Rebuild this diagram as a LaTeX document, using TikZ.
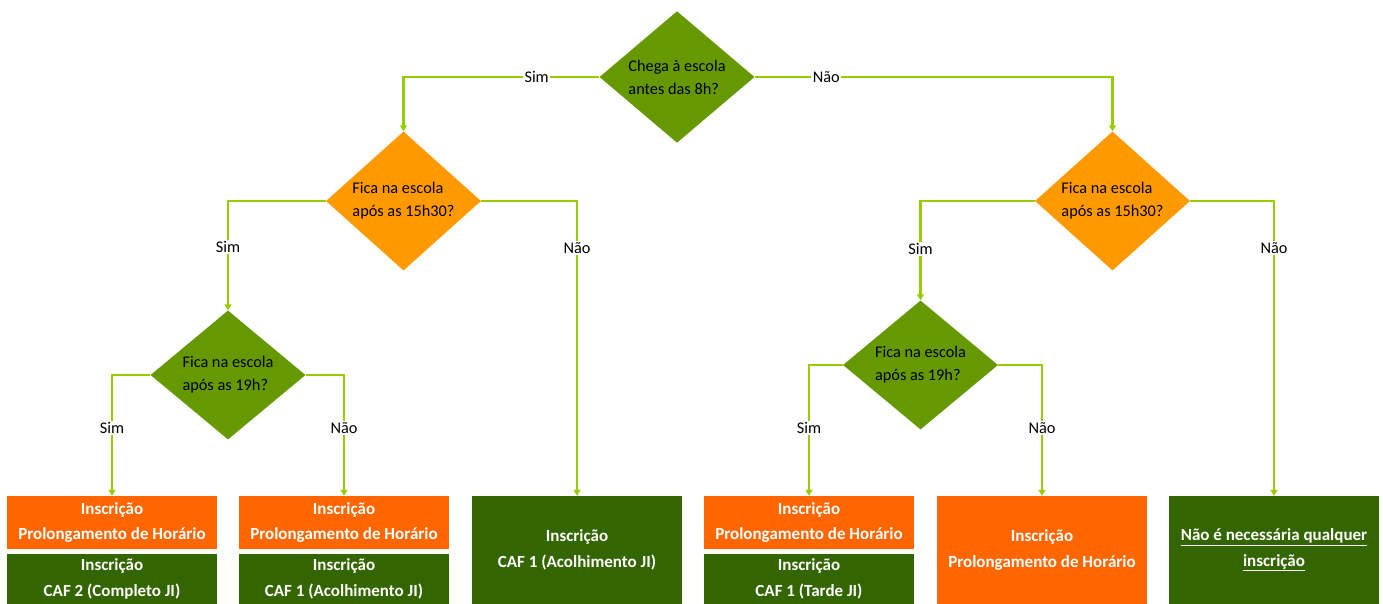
\documentclass[tikz,border=0pt]{standalone}
\usepackage{fontspec}
\setmainfont{Carlito}
\usetikzlibrary{shapes.geometric,arrows.meta}
\definecolor{dorange}{HTML}{FF9900}
\definecolor{dgreen}{HTML}{669900}
\definecolor{borange}{HTML}{FF6600}
\definecolor{bgreen}{HTML}{336600}
\definecolor{lineg}{HTML}{99CC00}
\tikzset{
  dec/.style={diamond, minimum width=155pt, minimum height=129pt, inner sep=0pt,
    font=\fontsize{16.3}{23}\selectfont, align=left, text=black},
  decor/.style={dec, fill=dorange},
  decgr/.style={dec, fill=dgreen},
  box/.style={rectangle, minimum width=210pt, inner sep=0pt, text=white,
    font=\bfseries\fontsize{17}{25.5}\selectfont, align=center},
  boxor/.style={box, fill=borange},
  boxgr/.style={box, fill=bgreen},
  conn/.style={draw=lineg, line width=2.4pt, -{Triangle[length=6pt,width=7pt]}},
  lab/.style={fill=white, inner sep=1.5pt, text=black, font=\fontsize{16.3}{18}\selectfont}
}
\begin{document}
\begin{tikzpicture}[x=1pt,y=-1pt]
\useasboundingbox (0,0) rectangle (1383,604);
% decisions
\node[decgr] (q1) at (677,77) {Chega à escola\\antes das 8h?};
\node[decor] (q2) at (403.5,201) {Fica na escola\\após as 15h30?};
\node[decor] (q3) at (1112.5,201) {Fica na escola\\após as 15h30?};
\node[decgr] (q4) at (228,375) {Fica na escola\\após as 19h?};
\node[decgr] (q5) at (920.5,365) {Fica na escola\\após as 19h?};
% boxes
\node[boxor, minimum height=53pt] (b1) at (112,522.5) {Inscrição\\Prolongamento de Horário};
\node[boxgr, minimum height=50pt] (b1g) at (112,579) {Inscrição\\CAF 2 (Completo JI)};
\node[boxor, minimum height=53pt] (b2) at (344,522.5) {Inscrição\\Prolongamento de Horário};
\node[boxgr, minimum height=50pt] (b2g) at (344,579) {Inscrição\\CAF 1 (Acolhimento JI)};
\node[boxgr, minimum height=108pt] (b3) at (577,550) {Inscrição\\CAF 1 (Acolhimento JI)};
\node[boxor, minimum height=53pt] (b4) at (809,522.5) {Inscrição\\Prolongamento de Horário};
\node[boxgr, minimum height=50pt] (b4g) at (809,579) {Inscrição\\CAF 1 (Tarde JI)};
\node[boxor, minimum height=108pt] (b5) at (1042,550) {Inscrição\\Prolongamento de Horário};
\node[boxgr, minimum height=108pt] (b6) at (1274,550) {\underline{Não é necessária qualquer}\\\underline{inscrição}};
% connectors
\draw[conn] (q1.west) -| node[lab, pos=0.16] {Sim} (q2.north);
\draw[conn] (q1.east) -| node[lab, pos=0.1] {Não} (q3.north);
\draw[conn] (q2.west) -| node[lab, pos=0.71] {Sim} (q4.north);
\draw[conn] (q2.east) -| node[lab, pos=0.58] {Não} (b3.north);
\draw[conn] (q3.west) -| node[lab, pos=0.74] {Sim} (q5.north);
\draw[conn] (q3.east) -| node[lab, pos=0.58] {Não} (b6.north);
\draw[conn] (q4.west) -| node[lab, pos=0.72] {Sim} (b1.north);
\draw[conn] (q4.east) -| node[lab, pos=0.72] {Não} (b2.north);
\draw[conn] (q5.west) -| node[lab, pos=0.74] {Sim} (b4.north);
\draw[conn] (q5.east) -| node[lab, pos=0.74] {Não} (b5.north);
\end{tikzpicture}
\end{document}
